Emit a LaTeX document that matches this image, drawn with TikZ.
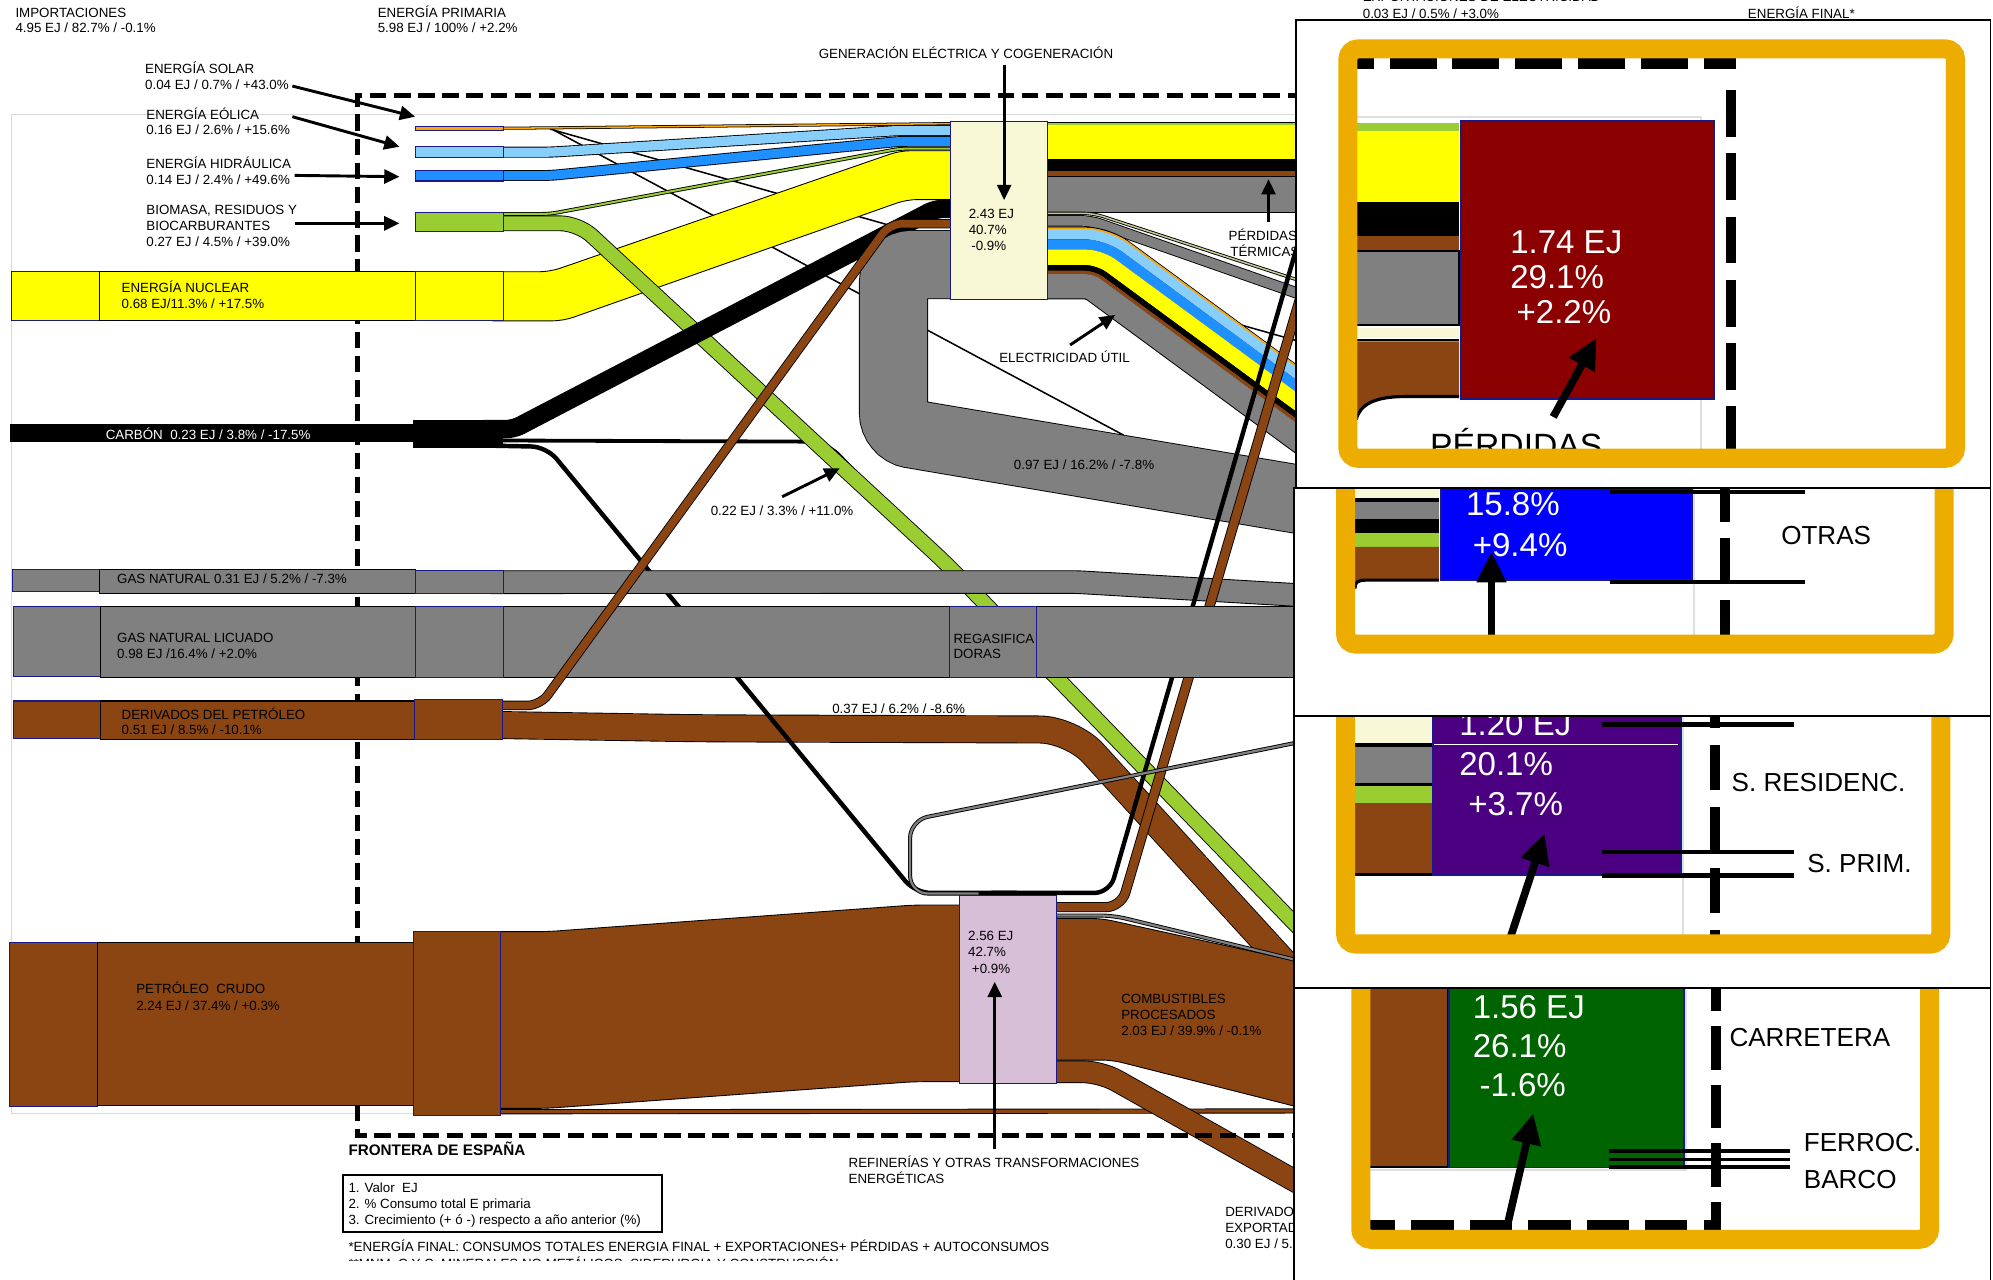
\documentclass[tikz,border=0pt]{standalone}
\usepackage{fontspec}
\setmainfont{Liberation Sans}
\usetikzlibrary{arrows.meta}
\definecolor{cyel}{RGB}{255,255,0}
\definecolor{clb}{RGB}{135,206,250}
\definecolor{cblue}{RGB}{30,144,255}
\definecolor{cgreen}{RGB}{154,205,50}
\definecolor{cbrown}{RGB}{139,69,19}
\definecolor{cgrey}{RGB}{128,128,128}
\definecolor{csolar}{RGB}{255,165,0}
\definecolor{ccream}{RGB}{248,248,214}
\definecolor{cthistle}{RGB}{216,191,216}
\definecolor{cnavy}{RGB}{25,25,140}
\definecolor{corange}{RGB}{236,172,0}
\definecolor{cdred}{RGB}{139,0,0}
\definecolor{cpblue}{RGB}{0,0,255}
\definecolor{cpurple}{RGB}{75,0,130}
\definecolor{cdgreen}{RGB}{0,100,0}
\definecolor{cexp}{RGB}{200,200,150}
\begin{document}
\begin{tikzpicture}[x=1pt,y=-1pt,
 txt/.style={font=\fontsize{10.5}{12.5}\selectfont, anchor=base west, inner sep=0pt},
 bigw/.style={font=\fontsize{26}{28}\selectfont, anchor=base west, inner sep=0pt, text=white},
 plab/.style={font=\fontsize{20.5}{24}\selectfont, anchor=base west, inner sep=0pt},
 arr/.style={line width=2.3pt, -{Triangle[length=12pt,width=11pt]}},
 parr/.style={line width=6pt, -{Triangle[length=24pt,width=22pt]}},
 band/.style 2 args={draw=black, line width=0.7pt, double=#1, double distance=#2},
 oframe/.style={draw=corange, line width=15pt, rounded corners=8pt},
 pdash/.style={line width=8pt}]
\useasboundingbox (0,0) rectangle (1568,1007);
\fill[white] (0,0) rectangle (1568,1007);
% light grey frame
\draw[gray!30, line width=0.8pt] (1045,90) -- (9,90) -- (9,876) -- (1045,876);
% thin lines from solar
\draw[line width=1.2pt] (432.7,101.5) -- (1045,275.1);
\draw[line width=1.2pt] (435.3,102.2) -- (883.9,342.3);
% flows to generation
\filldraw[fill=cyel, draw=black, line width=0.7pt, rounded corners=8pt] (380,213.8) -- (432.7,213.8) -- (708,118.6) -- (760,118.6) -- (760,157) -- (713.4,157) -- (443.2,252.4) -- (380,252.4) -- cycle;
\draw[band={clb}{7.3pt}, rounded corners=6pt] (380,119.75) -- (432.7,119.75) -- (708,102.6) -- (760,102.6);
\draw[band={cblue}{7.1pt}, rounded corners=6pt] (380,138.1) -- (432.7,138.1) -- (708,111.2) -- (760,111.2);
\draw[band={cgreen}{1.6pt}, rounded corners=6pt] (380,168.3) -- (432.7,168.3) -- (708,116.9) -- (760,116.9);
\draw[band={csolar}{1.2pt}, line width=0.6pt] (380,101) -- (432.7,100.6) -- (760,97.1);
% carbon thin line
\draw[line width=3pt, rounded corners=14pt] (380,346.5) -- (650,347.5) -- (1045,759.3);
% green biomass to final
\draw[band={cgreen}{11pt}, rounded corners=14pt] (380,175.7) -- (455,175.7) -- (745,444) -- (1045,754);
% coal to generation
\draw[line width=14.5pt, rounded corners=6pt] (380,337.6) -- (404,337.6) -- (736,164.3) -- (760,164.3);
% derivados 0.37
\draw[band={cbrown}{20.6pt}, rounded corners=25pt] (380,570.2) -- (550,573) -- (843,574) -- (1045,795.4);
% coal to refinery
\draw[line width=3.5pt, rounded corners=12pt] (380,350.5) -- (430,351.5) -- (720,702.5) -- (800,702.5);
% gas natural
\filldraw[fill=cgrey, draw=black, line width=0.7pt, rounded corners=6pt] (380,449) -- (848,449) -- (1045,460.6) -- (1045,478.5) -- (846,466.8) -- (380,467) -- cycle;
% gas to generation (U)
\draw[band={cgrey}{53pt}, rounded corners=14pt] (760,208.2) -- (703,208.2) -- (703,339) -- (1045,396.8);
% generation outputs
\fill[cgreen] (824,96.3) rectangle (1045,98.4);
\fill[cyel] (824,98.4) rectangle (1045,125.4);
\fill[black] (824,125.4) rectangle (1045,134.3);
\fill[cbrown] (824,134.3) rectangle (1045,139);
\filldraw[fill=cgrey, draw=black, line width=0.7pt] (824,139) rectangle (1045,167);
\draw[line width=0.7pt] (824,96.3) -- (1045,96.3);
\draw[band={cexp}{1.2pt}, rounded corners=8pt] (815,167.8) -- (860,167.8) -- (1045,228.1);
\draw[band={cgrey}{7.6pt}, rounded corners=8pt] (815,173.7) -- (858,173.7) -- (1045,239.2);
\draw[line width=57.1pt, rounded corners=9.9pt] (815,206.9) -- (863.4,206.9) -- (1045,340.4);
\draw[clb, line width=9.2pt, rounded corners=17.5pt] (815,183.7) -- (871,183.7) -- (1045,311.6);
\draw[cblue, line width=7.9pt, rounded corners=14.7pt] (815,192.25) -- (868.2,192.25) -- (1045,322.2);
\draw[cyel, line width=12.3pt, rounded corners=11.4pt] (815,202.35) -- (864.9,202.35) -- (1045,334.7);
\draw[black, line width=4.5pt, rounded corners=8.6pt] (815,210.75) -- (862.1,210.75) -- (1045,345.2);
\draw[cbrown, line width=2.6pt, rounded corners=7.5pt] (815,214.3) -- (861,214.3) -- (1045,349.5);
\draw[cgrey, line width=19.1pt, rounded corners=3.9pt] (815,225.15) -- (857.4,225.15) -- (1045,363);
\draw[csolar, line width=1.2pt, rounded corners=18.8pt] (815,179.7) -- (872.3,179.7) -- (1045,306.6);
% lines going up from refinery
\draw[line width=3.5pt, rounded corners=12pt] (780,702.5) -- (873,702.5) -- (1035,143.6);
\draw[band={cbrown}{6.6pt}, rounded corners=12pt] (820,713.7) -- (882,713.7) -- (1040,176.5);
% GNL
\filldraw[fill=cgrey, draw=black, line width=0.7pt] (380,477) rectangle (1045,533);
% derivados to generation
\draw[band={cbrown}{6pt}, rounded corners=10pt] (380,555) -- (425,555) -- (700,176) -- (760,176);
% crude
\filldraw[fill=cbrown, draw=black, line width=0.7pt, rounded corners=8pt] (380,733) -- (430,733) -- (719,712) -- (770,712) -- (770,851) -- (719,851) -- (430,872) -- (380,872) -- cycle;
\draw[band={cbrown}{2.6pt}] (380,874.7) -- (1045,874);
\filldraw[fill=cbrown, draw=black, line width=0.7pt, rounded corners=8pt] (820,722.6) -- (866.8,722.6) -- (1045,761.6) -- (1045,877) -- (875,834) -- (820,834) -- cycle;
\draw[band={cbrown}{16.5pt}, rounded corners=14pt] (820,843.2) -- (866,843.2) -- (1045,943.8);
% gas lines around refinery
\draw[band={cgrey}{1.8pt}, rounded corners=14pt] (1045,579.3) -- (716,645.4) -- (716,703) -- (770,703);
\draw[band={cgrey}{1.8pt}, rounded corners=10pt] (820,720.3) -- (876,720.3) -- (1045,761.4);
% border of Spain
\draw[line width=4pt, dash pattern=on 13pt off 6pt] (1045,75) -- (281,75) -- (281,893.5) -- (1045,893.5);
% source bars
\tikzset{bx/.style={draw=cnavy, line width=0.8pt}, br/.style={draw=black, line width=0.8pt}}
\filldraw[fill=csolar, bx, line width=0.6pt] (326.6,99.7) rectangle (396,102.3);
\filldraw[fill=clb, bx] (326.6,115.4) rectangle (396,124.1);
\filldraw[fill=cblue, bx] (326.6,133.8) rectangle (396,142.4);
\filldraw[fill=cgreen, bx] (326.6,166.8) rectangle (396,181.8);
\filldraw[fill=cyel, bx] (8.8,213.8) rectangle (78,252.4);
\filldraw[fill=cyel, br] (78,213.8) rectangle (326.6,252.4);
\filldraw[fill=cyel, bx] (326.6,213.8) rectangle (396,252.4);
\fill[black] (7.7,333.8) rectangle (325,347.5);
\fill[black] (325,330.4) rectangle (396,352.7);
\filldraw[fill=cgrey, bx] (9.5,447.7) rectangle (78,465.5);
\filldraw[fill=cgrey, br] (78,448) rectangle (326.6,467);
\filldraw[fill=cgrey, bx] (326.6,449) rectangle (396,467);
\filldraw[fill=cgrey, bx] (10.5,476.8) rectangle (79,532);
\filldraw[fill=cgrey, br] (79,476.8) rectangle (326.6,533);
\filldraw[fill=cgrey, bx] (326.6,477) rectangle (396,533);
\filldraw[fill=cbrown, bx] (10.5,551.5) rectangle (79,581);
\filldraw[fill=cbrown, br] (79,551.5) rectangle (326,581.5);
\filldraw[fill=cbrown, bx] (326,550.7) rectangle (395,581.7);
\filldraw[fill=cbrown, bx] (7.7,741.4) rectangle (76.6,870.2);
\filldraw[fill=cbrown, br] (76.6,741.4) rectangle (325,869.5);
\filldraw[fill=cbrown, bx] (325,733) rectangle (393.4,877.3);
% transformation boxes
\filldraw[fill=cgrey, bx] (747,476.8) rectangle (815.7,533);
\filldraw[fill=ccream, bx] (747.8,95.7) rectangle (824,235.5);
\filldraw[fill=cthistle, bx] (754.9,704.7) rectangle (831.3,852.4);
% texts
\node[txt] (t1) at (12,13.8) {IMPORTACIONES};
\node[txt] (t2) at (12,25.8) {4.95 EJ / 82.7\% / -0.1\%};
\node[txt] (t3) at (297,13.8) {ENERGÍA PRIMARIA};
\node[txt] (t4) at (297,25.8) {5.98 EJ / 100\% / +2.2\%};
\node[txt] (t5) at (1072,1.3) {EXPORTACIONES DE ELECTRICIDAD};
\node[txt] (t6) at (1072,14.3) {0.03 EJ / 0.5\% / +3.0\%};
\node[txt] (t7) at (1375,14.3) {ENERGÍA FINAL*};
\node[txt] (s1) at (114,57.6) {ENERGÍA SOLAR};
\node[txt] (s2) at (114,70.2) {0.04 EJ / 0.7\% / +43.0\%};
\node[txt] (e1) at (115,93.8) {ENERGÍA EÓLICA};
\node[txt] (e2) at (115,106.1) {0.16 EJ / 2.6\% / +15.6\%};
\node[txt] (h1) at (115,132.8) {ENERGÍA HIDRÁULICA};
\node[txt] (h2) at (115,145.4) {0.14 EJ / 2.4\% / +49.6\%};
\node[txt] (b1) at (115,168.8) {BIOMASA, RESIDUOS Y};
\node[txt] (b2) at (115,181.6) {BIOCARBURANTES};
\node[txt] (b3) at (115,193.8) {0.27 EJ / 4.5\% / +39.0\%};
\node[txt] (n1) at (95.5,229.8) {ENERGÍA NUCLEAR};
\node[txt] (n2) at (95.5,242.5) {0.68 EJ/11.3\% / +17.5\%};
\node[txt, text=white] (c1) at (83,345.5) {CARBÓN\ \ 0.23 EJ / 3.8\% / -17.5\%};
\node[txt] (g1) at (92,458.8) {GAS NATURAL 0.31 EJ / 5.2\% / -7.3\%};
\node[txt] (l1) at (92,505.8) {GAS NATURAL LICUADO};
\node[txt] (l2) at (92,518.4) {0.98 EJ /16.4\% / +2.0\%};
\node[txt] (d1) at (95.5,565.8) {DERIVADOS DEL PETRÓLEO};
\node[txt] (d2) at (95.5,578.2) {0.51 EJ / 8.5\% / -10.1\%};
\node[txt] (p1) at (107,781.4) {PETRÓLEO\ \ CRUDO};
\node[txt] (p2) at (107,795.3) {2.24 EJ / 37.4\% / +0.3\%};
\node[txt] (gt) at (644,45.8) {GENERACIÓN ELÉCTRICA Y COGENERACIÓN};
\node[txt] (gb1) at (762,171.8) {2.43 EJ};
\node[txt] (gb2) at (762,184.8) {40.7\%};
\node[txt] (gb3) at (764,197.4) {-0.9\%};
\node[txt] (pt1) at (966.5,189.5) {PÉRDIDAS};
\node[txt] (pt2) at (967.8,201.8) {TÉRMICAS};
\node[txt] (eu) at (786,284.8) {ELECTRICIDAD ÚTIL};
\node[txt] (q97) at (797.5,369.3) {0.97 EJ / 16.2\% / -7.8\%};
\node[txt] (q22) at (559,405.6) {0.22 EJ / 3.3\% / +11.0\%};
\node[txt] (q37) at (654.6,561.1) {0.37 EJ / 6.2\% / -8.6\%};
\node[txt] (rg1) at (750,506) {REGASIFICA};
\node[txt] (rg2) at (750,518.4) {DORAS};
\node[txt] (rb1) at (761.5,740.3) {2.56 EJ};
\node[txt] (rb2) at (761.5,752.6) {42.7\%};
\node[txt] (rb3) at (764.5,765.8) {+0.9\%};
\node[txt] (cp1) at (882,789.3) {COMBUSTIBLES};
\node[txt] (cp2) at (882,801.8) {PROCESADOS};
\node[txt] (cp3) at (882,814.8) {2.03 EJ / 39.9\% / -0.1\%};
\node[txt] (rf1) at (667.5,918.4) {REFINERÍAS Y OTRAS TRANSFORMACIONES};
\node[txt] (rf2) at (667.5,931) {ENERGÉTICAS};
\node[txt] (de1) at (963.8,957.2) {DERIVADOS};
\node[txt] (de2) at (963.8,969.8) {EXPORTADOS};
\node[txt] (de3) at (963.8,982.1) {0.30 EJ / 5.0\% / -0.0\%};
\node[txt, font=\bfseries\fontsize{12}{14}\selectfont] (fr) at (274,909.3) {FRONTERA DE ESPAÑA};
\draw[line width=1.8pt] (270,924.5) rectangle (521,969);
\node[txt] (lg1) at (274,937.8) {1. Valor\ \ EJ};
\node[txt] (lg2) at (274,950.6) {2. \% Consumo total E primaria};
\node[txt] (lg3) at (274,963) {3. Crecimiento (+ ó -) respecto a año anterior (\%)};
\node[txt] (ft1) at (274,984.8) {*ENERGÍA FINAL: CONSUMOS TOTALES ENERGIA FINAL + EXPORTACIONES+ PÉRDIDAS + AUTOCONSUMOS};
\begin{scope}
\clip (0,985) rectangle (1000,991.5);
\node[txt] (ft2) at (274,998) {**MNM. C Y C. MINERALES NO METÁLICOS, SIDERURGIA Y CONSTRUCCIÓN};
\end{scope}
% arrows
\draw[arr] (230,67.7) -- (326.6,91.8);
\draw[arr] (230,91.8) -- (314.3,115.4);
\draw[arr] (231.8,138) -- (314.3,139);
\draw[arr] (231.8,175.7) -- (314.3,175.7);
\draw[arr] (790,51) -- (790,157.4);
\draw[arr] (841.9,271.4) -- (877.3,247.8);
\draw[arr] (998,174.4) -- (998,141);
\draw[arr] (615.4,390.8) -- (660.6,368.5);
\draw[arr] (782.6,903.6) -- (782.6,772.4);
% ---------- panel 4 ----------
\begin{scope}
\clip (1018,777.6) rectangle (1566,1010);
\fill[white] (1018,777.6) rectangle (1566,1010);
\draw[gray!25, line width=1.5pt] (1077.7,920.6) -- (1326.8,920.6) -- (1326.8,760);
\filldraw[fill=cbrown, draw=black, line width=1.5pt] (1068,760) rectangle (1139,918);
\filldraw[fill=cdgreen, draw=cnavy, line width=1.5pt] (1140.1,760) rectangle (1325,918.5);
\draw[pdash, dash pattern=on 34pt off 12pt, dash phase=11.5pt] (1349.8,968) -- (1349.8,760);
\draw[pdash, dash pattern=on 33.3pt off 12.7pt, dash phase=22pt] (1351.6,963.8) -- (1070,963.8);
\draw[line width=3pt] (1265.5,905.3) -- (1408.3,905.3);
\draw[line width=3pt] (1265.5,912.2) -- (1408.3,912.2);
\draw[line width=3pt] (1265.5,918) -- (1408.3,918);
\node[bigw] (v41) at (1158.5,801.3) {1.56 EJ};
\node[bigw] (v42) at (1158.5,832.3) {26.1\%};
\node[bigw] (v43) at (1163.8,863) {-1.6\%};
\node[plab] (v44) at (1360.5,823.5) {CARRETERA};
\node[plab] (v45) at (1419,906.3) {FERROC.};
\node[plab] (v46) at (1419,934.9) {BARCO};
\draw[parr] (1185,968) -- (1206.3,876);
\draw[oframe] (1070.6,700) rectangle (1518.1,975);
\end{scope}
\draw[line width=1.5pt] (1018,777.6) rectangle (1566,1010);
% ---------- panel 3 ----------
\begin{scope}
\clip (1018,563) rectangle (1566,777.6);
\fill[white] (1018,563) rectangle (1566,777.6);
\draw[gray!25, line width=1.5pt] (1324.3,500) -- (1324.3,740);
\fill[ccream] (1058,555) rectangle (1127,584.9);
\fill[black] (1058,584.9) rectangle (1127,587.5);
\fill[cgrey] (1058,587.5) rectangle (1127,616.4);
\fill[black] (1058,616.4) rectangle (1127,618.5);
\fill[cgreen] (1058,618.5) rectangle (1127,632.1);
\fill[cbrown] (1058,632.1) rectangle (1127,687.2);
\draw[line width=2pt] (1058,688.2) -- (1127,688.2);
\filldraw[fill=cpurple, draw=cnavy, line width=1.5pt] (1127.7,500) rectangle (1322.5,688.5);
\draw[white, line width=1pt] (1128.4,585.7) -- (1320.4,585.7);
\draw[pdash, dash pattern=on 35.4pt off 13.1pt] (1349.1,537.7) -- (1349.1,745);
\draw[line width=3.5pt] (1260.2,570) -- (1411.1,570);
\draw[line width=3.5pt] (1260.2,670.2) -- (1411.1,670.2);
\draw[line width=3.5pt] (1260.2,688.8) -- (1411.1,688.8);
\node[bigw] (v31) at (1147.9,578.5) {1.20 EJ};
\node[bigw] (v32) at (1147.9,610) {20.1\%};
\node[bigw] (v33) at (1155,641.4) {+3.7\%};
\node[plab] (v34) at (1362.2,622.4) {S. RESIDENC.};
\node[plab] (v35) at (1421.7,686.1) {S. PRIM.};
\draw[parr] (1187.5,740) -- (1215.2,655.7);
\draw[oframe] (1058.6,480) rectangle (1526.9,742.7);
\end{scope}
\draw[line width=1.5pt] (1018,563) rectangle (1566,777.6);
% ---------- panel 2 ----------
\begin{scope}
\clip (1018,384) rectangle (1566,563);
\fill[white] (1018,384) rectangle (1566,563);
\draw[gray!25, line width=1.5pt] (1332.8,300) -- (1332.8,500);
\fill[ccream] (1058,380) rectangle (1132,392.1);
\fill[black] (1058,392.1) rectangle (1132,394.7);
\fill[cgrey] (1058,394.7) rectangle (1132,408.7);
\fill[black] (1058,408.7) rectangle (1132,419.7);
\fill[cgreen] (1058,419.7) rectangle (1132,430.2);
\fill[cbrown] (1058,430.2) -- (1132,430.2) -- (1132,456.4) -- (1075,456.4) .. controls (1068,456.4) and (1066,458) .. (1066,463) -- (1058,463) -- cycle;
\draw[line width=2.5pt] (1132,456.4) -- (1075,456.4) .. controls (1068,456.4) and (1066,458) .. (1066,463);
\filldraw[fill=cpblue, draw=cnavy, line width=1.5pt] (1133.7,300) rectangle (1331.4,456.4);
\draw[pdash, dash pattern=on 35.4pt off 13.1pt] (1357.3,375.1) -- (1357.3,510);
\draw[line width=3.5pt] (1266.5,386.9) -- (1420,386.9);
\draw[line width=3.5pt] (1266.5,457.7) -- (1420,457.7);
\node[bigw] (v21) at (1153.2,405.4) {15.8\%};
\node[bigw] (v22) at (1158.5,438.1) {+9.4\%};
\node[plab] (v23) at (1401.2,428.3) {OTRAS};
\draw[parr] (1173.4,505) -- (1173.4,434.1);
\draw[oframe] (1058.6,300) rectangle (1529.5,506.7);
\end{scope}
\draw[line width=1.5pt] (1018,384) rectangle (1566,563);
% ---------- panel 1 ----------
\begin{scope}
\clip (1019.5,15.7) rectangle (1566,384);
\fill[white] (1019.5,15.7) rectangle (1566,384);
\draw[gray!25, line width=1.5pt] (1060,92) -- (1338,92) -- (1338,360);
\fill[cgreen] (1060,97) rectangle (1148,102.8);
\fill[cyel] (1060,102.8) rectangle (1148,159.2);
\fill[black] (1060,159.2) rectangle (1148,185.4);
\fill[cbrown] (1060,185.4) rectangle (1148,197.2);
\filldraw[fill=cgrey, draw=black, line width=1.5pt] (1060,197.2) rectangle (1148,255.7);
\fill[ccream] (1060,258.4) rectangle (1148,266.2);
\draw[line width=2pt] (1060,267.5) -- (1148,267.5);
\fill[cbrown] (1060,268.5) -- (1148,268.5) -- (1148,312) -- (1105,312) .. controls (1082,312) and (1070,318) .. (1067,330) -- (1060,330) -- cycle;
\draw[line width=2.5pt] (1148,312) -- (1105,312) .. controls (1082,312) and (1070,318) .. (1067,330);
\filldraw[fill=cdred, draw=cnavy, line width=1.5pt] (1149.5,95) rectangle (1348.5,314);
\draw[pdash, dash pattern=on 37pt off 12.5pt, dash phase=11.7pt] (1366,50) -- (1060,50);
\draw[pdash, dash pattern=on 36.7pt off 13.1pt, dash phase=36.7pt] (1362,57.7) -- (1362,360);
\node[bigw] (v11) at (1188,199.3) {1.74 EJ};
\node[bigw] (v12) at (1188,227.3) {29.1\%};
\node[bigw] (v13) at (1193,254.3) {+2.2\%};
\node[font=\fontsize{26.5}{28}\selectfont, anchor=base west, inner sep=0pt] (v14) at (1125,360) {PÉRDIDAS};
\draw[parr] (1222,328) -- (1256,266);
\draw[oframe] (1060.5,38.5) rectangle (1538.5,360.5);
\end{scope}
\draw[line width=1.5pt] (1019.5,15.7) rectangle (1566,384);
\end{tikzpicture}
\end{document}
